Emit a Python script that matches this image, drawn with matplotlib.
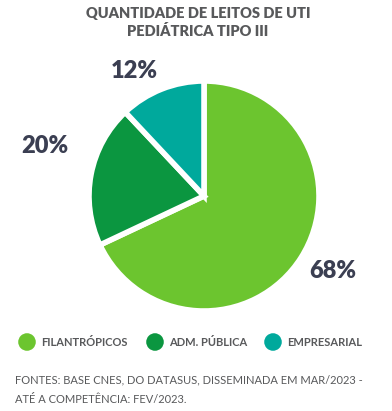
import matplotlib
matplotlib.use("Agg")
import matplotlib.pyplot as plt

# data
categories = ["FILANTRÓPICOS", "ADM. PÚBLICA", "EMPRESARIAL"]
values = [68, 20, 12]
colors = ["#6cc52f", "#0b9640", "#00a99c"]
pct_labels = ["68%", "20%", "12%"]

plt.rcParams['font.family'] = ['Lato', 'DejaVu Sans']
dark = "#3b3f52"
grey = "#58595b"

W, H = 392, 411
fig = plt.figure(figsize=(W / 100, H / 100), dpi=100)

# pie axes: center (204,196) px, radius 115 px
cx, cy, r = 204, 196, 115
ax = fig.add_axes([(cx - r) / W, (H - cy - r) / H, 2 * r / W, 2 * r / H])
ax.pie(values, colors=colors, startangle=90, counterclock=False,
       wedgeprops=dict(edgecolor="white", linewidth=4))
ax.set_xlim(-1, 1)
ax.set_ylim(-1, 1)
ax.set_aspect("equal")
ax.axis("off")

# overlay in pixel coords for text/legend
ov = fig.add_axes([0, 0, 1, 1], zorder=5)
ov.set_xlim(0, W)
ov.set_ylim(H, 0)
ov.axis("off")

ov.text(W / 2 + 2, 14, "QUANTIDADE DE LEITOS DE UTI", ha="center", va="center",
        fontsize=10.5, fontweight="heavy", color=grey)
ov.text(W / 2 + 2, 31, "PEDIÁTRICA TIPO III", ha="center", va="center",
        fontsize=10.5, fontweight="heavy", color=grey)

label_pos = [(333, 271), (45, 146), (134, 71)]
for lab, (x, y) in zip(pct_labels, label_pos):
    ov.text(x, y, lab, ha="center", va="center", fontsize=17,
            fontweight="heavy", color=dark)

leg_x = [27, 155, 273]
for cat, col, x in zip(categories, colors, leg_x):
    ov.scatter([x], [342], s=160, color=col, edgecolor="none")
    ov.text(x + 14, 342, cat, ha="left", va="center", fontsize=8,
            fontweight="bold", color=grey)

ov.text(15, 380, "FONTES: BASE CNES, DO DATASUS, DISSEMINADA EM MAR/2023 -",
        ha="left", va="center", fontsize=8, color=grey)
ov.text(15, 399, "ATÉ A COMPETÊNCIA: FEV/2023.",
        ha="left", va="center", fontsize=8, color=grey)

fig.savefig("out.png", dpi=100)
